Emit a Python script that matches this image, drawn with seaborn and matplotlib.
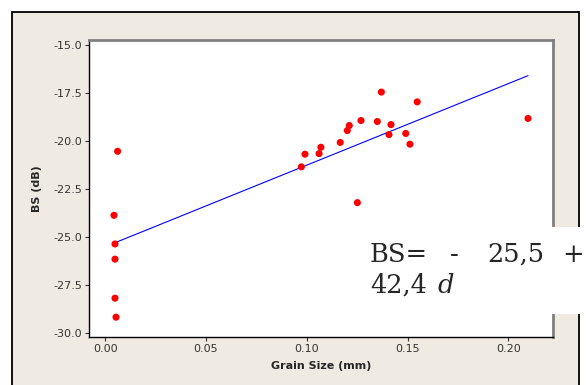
import numpy as np
import pandas as pd
import matplotlib
matplotlib.use("Agg")
import matplotlib.pyplot as plt
import matplotlib.patches as mpatches
import seaborn as sns

# Grain size (mm) vs backscatter (dB)
grain_size = [0.0043, 0.0048, 0.0048, 0.0048, 0.0053, 0.0061,
              0.0973, 0.0991, 0.1061, 0.1070, 0.1166, 0.1201, 0.1211,
              0.1251, 0.1269, 0.1350, 0.1370, 0.1408, 0.1418, 0.1491,
              0.1512, 0.1548, 0.2098]
bs_db = [-23.87, -25.36, -26.15, -28.18, -29.17, -20.54,
         -21.35, -20.69, -20.66, -20.33, -20.08, -19.46, -19.20,
         -23.21, -18.94, -18.99, -17.46, -19.67, -19.15, -19.61,
         -20.17, -17.97, -18.83]

# fitted line BS = -25.5 + 42.4 d
intercept = -25.5
slope = 42.4

x_ticks = [0.00, 0.05, 0.10, 0.15, 0.20]
y_ticks = [-30.0, -27.5, -25.0, -22.5, -20.0, -17.5, -15.0]

df = pd.DataFrame({"d": grain_size, "bs": bs_db})
fit_x = np.array([min(grain_size), max(grain_size)])
fit = pd.DataFrame({"d": fit_x, "bs": intercept + slope * fit_x})

sns.set_style("white")
plt.rcParams["font.family"] = ["DejaVu Sans"]

W, H = 586, 385
fig = plt.figure(figsize=(W / 100, H / 100), dpi=100)
fig.patch.set_facecolor("white")

# beige panel with black frame
panel = mpatches.Rectangle((12 / W, -0.02), (579 - 12) / W, 1 - 12 / H + 0.02,
                           transform=fig.transFigure, facecolor="#EFEBE2",
                           edgecolor="black", linewidth=1.3, zorder=-2)
fig.patches.append(panel)

ax = fig.add_axes([89 / W, 1 - 337 / H, (553 - 89) / W, (337 - 40) / H])
ax.set_zorder(1)
ax.set_facecolor("white")

sns.lineplot(data=fit, x="d", y="bs", color="blue", linewidth=0.8, ax=ax)
sns.scatterplot(data=df, x="d", y="bs", color="red", s=26, edgecolor="none",
                ax=ax, zorder=3)

ax.set_xlim(-0.0081, 0.2222)
ax.set_ylim(-30.2, -14.75)
ax.set_xticks(x_ticks)
ax.set_xticklabels([f"{v:.2f}" for v in x_ticks])
ax.set_yticks(y_ticks)
ax.set_yticklabels([f"{v:.1f}" for v in y_ticks])
ax.tick_params(axis="both", direction="out", length=3, width=0.8,
               labelsize=8, colors="#333333", pad=2,
               bottom=True, left=True)

ax.set_xlabel("Grain Size (mm)", fontsize=8, fontweight="bold", labelpad=5)
ax.set_ylabel("BS (dB)", fontsize=8, fontweight="bold", labelpad=8)

for side in ["left", "bottom"]:
    ax.spines[side].set_color("black")
    ax.spines[side].set_linewidth(1.0)
for side in ["top", "right"]:
    ax.spines[side].set_color("#808080")
    ax.spines[side].set_linewidth(2.0)

# white equation box, drawn above the axes
box = mpatches.Rectangle((360 / W, 1 - 314 / H), 0.5, (314 - 227) / H,
                         transform=fig.transFigure, facecolor="white",
                         edgecolor="none", zorder=5)
fig.patches.append(box)

serif = ["DejaVu Serif"]
fs = 18.5
y1 = 1 - 262 / H
y2 = 1 - 293 / H
for txt, px in [("BS=", 370), ("-", 450), ("25,5", 487), ("+", 562)]:
    fig.text(px / W, y1, txt, family=serif, fontsize=fs, va="baseline",
             ha="left", zorder=6)
fig.text(370 / W, y2, "42,4", family=serif, fontsize=fs, va="baseline",
         ha="left", zorder=6)
fig.text(438 / W, y2, "d", family=serif, fontsize=fs, style="italic",
         va="baseline", ha="left", zorder=6)

fig.savefig("out.png", dpi=100)
